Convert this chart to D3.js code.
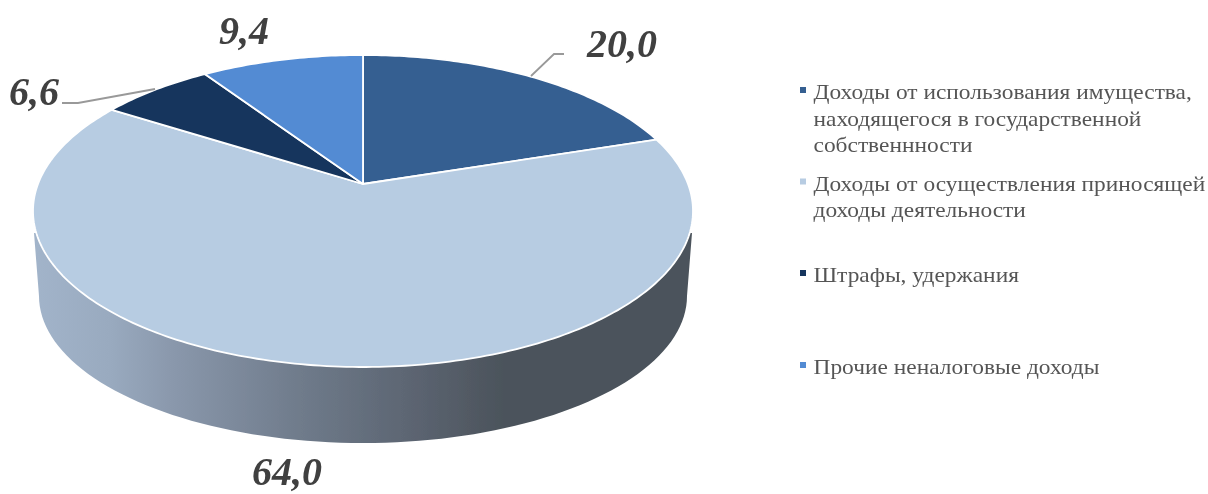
<!DOCTYPE html>
<html><head><meta charset="utf-8">
<script src="https://cdnjs.cloudflare.com/ajax/libs/d3/7.8.5/d3.min.js"></script>
<style>html,body{margin:0;padding:0;background:#fff}svg{display:block}</style>
</head><body><svg id="c" width="1208" height="494"></svg>
<script>
const categories = [
  ["Доходы от использования имущества,","находящегося в государственной","собственнности"],
  ["Доходы от осуществления приносящей","доходы деятельности"],
  ["Штрафы, удержания"],
  ["Прочие неналоговые доходы"]
];
const values = [20.0, 64.0, 6.6, 9.4];
const colors = ["#355e91","#b7cce2","#17365d","#538bd3"];
const labelPositions = [[622,57],[287,485],[34,105],[244,44]];
const legendFirstBaselines = [99,190.5,282,374];
const wallStops = [[0,"#a2b4ca"],[0.117,"#99aabf"],[0.21,"#8a98ac"],[0.405,"#6f7b8b"],[0.617,"#575f6b"],[0.715,"#4b535b"],[1,"#4b535b"]];

const svg = d3.select("#c");
const defs = svg.append("defs");
const grad = defs.append("linearGradient").attr("id","wall").attr("gradientUnits","userSpaceOnUse")
  .attr("x1",33).attr("x2",693).attr("y1",0).attr("y2",0);
wallStops.forEach(s=>grad.append("stop").attr("offset",s[0]).attr("stop-color",s[1]));
defs.append("filter").attr("id","soft").append("feGaussianBlur").attr("stdDeviation",0.4);

const cx=363, cy=211, rx=330, ry=156, apexDy=-27;
const persp=apexDy/ry;
const a=rx*Math.sqrt(1-persp*persp);
function project(t,r=1){ // t clockwise from top; perspective view of a unit disc
  const u=r*Math.sin(t), v=-r*Math.cos(t), d=1+persp*v;
  return [cx+a*u/d, cy+(ry*v+apexDy)/d];
}
const line=d3.line();
const pie=d3.pie().sort(null).value(d=>d)(values);
const chart=svg.append("g").attr("filter","url(#soft)");

// side wall
const botCy=296, botRx=324, botRy=147, wallTop=233;
const botArc=d3.range(0,181,2).map(i=>{const t=i*Math.PI/180;return [cx+botRx*Math.cos(t),botCy+botRy*Math.sin(t)];});
const wallPts=[[cx+rx-1,wallTop],...botArc,[cx-rx+1,wallTop]];
chart.append("path").attr("d",line(wallPts)+"Z").attr("fill","url(#wall)");

// slices
pie.forEach((p,i)=>{
  const n=Math.max(2,Math.ceil((p.endAngle-p.startAngle)*60));
  const pts=[project(0,0)];
  d3.range(n+1).forEach(j=>pts.push(project(p.startAngle+(p.endAngle-p.startAngle)*j/n)));
  chart.append("path").attr("d",line(pts)+"Z").attr("fill",colors[i])
   .attr("stroke","#fff").attr("stroke-width",1.8).attr("stroke-linejoin","round");
});

// leader lines
const leaders=[[[531,76],[554,54],[564,54]],[[62,103],[78,103],[155,89]]];
chart.append("g").selectAll("path").data(leaders).join("path").attr("d",d=>line(d))
  .attr("fill","none").attr("stroke","#999999").attr("stroke-width",1.8);

// value labels
const fmt=d=>d.toFixed(1).replace(".",",");
chart.append("g").selectAll("text").data(values).join("text")
  .attr("x",(d,i)=>labelPositions[i][0]).attr("y",(d,i)=>labelPositions[i][1])
  .attr("text-anchor","middle").attr("font-family","'Liberation Serif'")
  .attr("font-size",40).attr("font-weight","bold").attr("font-style","italic")
  .attr("fill","#404040").text(fmt);

// legend (text is stretched horizontally in the reference)
const lg=chart.append("g");
categories.forEach((lines,i)=>{
  const y0=legendFirstBaselines[i];
  lg.append("rect").attr("x",800).attr("y",y0-12).attr("width",6).attr("height",6).attr("fill",colors[i]);
  lines.forEach((t,j)=>lg.append("text")
    .attr("transform",`translate(813.5,${y0+j*26.5}) scale(1.142,1)`)
    .attr("font-family","'Liberation Serif'").attr("font-size",20.5).attr("fill","#555555").text(t));
});
</script></body></html>
